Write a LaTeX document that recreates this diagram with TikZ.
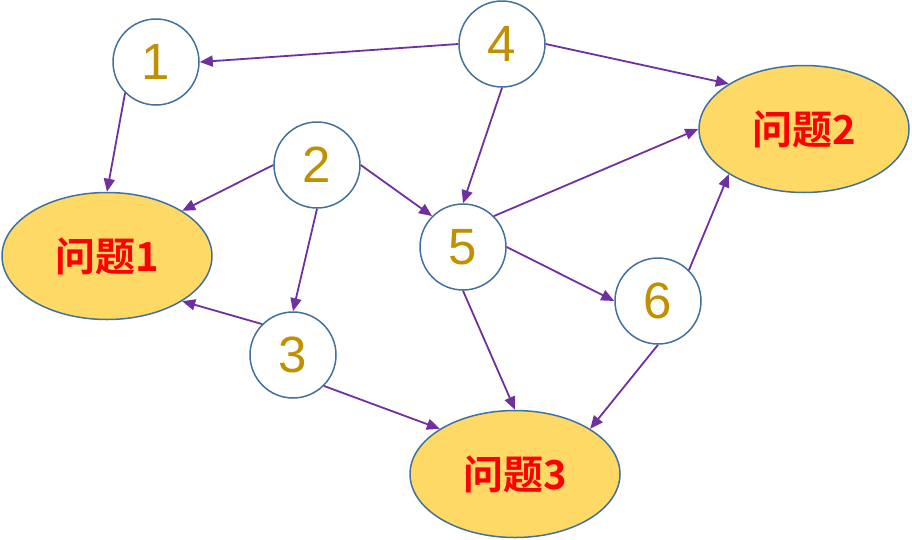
\documentclass[tikz,border=0pt]{standalone}
\usepackage{fontspec}
\setmainfont{Liberation Sans}
\newfontfamily\cjkbold{Noto Sans CJK SC Bold}
\usetikzlibrary{arrows.meta,shapes.geometric}
\definecolor{edgepurple}{HTML}{7030A0}
\definecolor{borderblue}{HTML}{41719C}
\definecolor{digitgold}{HTML}{BF9000}
\definecolor{probfill}{HTML}{FFD966}
\begin{document}
\begin{tikzpicture}[x=1pt,y=-1pt,
  numnode/.style={circle,draw=borderblue,line width=1.5pt,fill=white,minimum size=86pt,inner sep=0pt,
    text=digitgold,font=\fontsize{51}{51}\selectfont},
  probnode/.style={ellipse,draw=borderblue,line width=1.5pt,fill=probfill,minimum width=210pt,minimum height=127pt,inner sep=0pt,
    text=red,font=\cjkbold\fontsize{40}{40}\selectfont},
  conn/.style={draw=edgepurple,line width=1.8pt,-{Triangle[length=13pt,width=11pt]}}]
\useasboundingbox (0,0) rectangle (912,539);
\node[probnode] (e1) at (107,256) {问题1};
\node[probnode] (e2) at (804,129) {问题2};
\node[probnode] (e3) at (515,474) {问题3};
\node[numnode] (n1) at (156,62) {1};
\node[numnode] (n4) at (502,44) {4};
\node[numnode] (n2) at (317,165) {2};
\node[numnode] (n5) at (463,247) {5};
\node[numnode] (n6) at (658,301) {6};
\node[numnode] (n3) at (293,355) {3};
\draw[conn] (n4.west) -- (n1.east);
\draw[conn] (n4.east) -- (e2.149);
\draw[conn] (n4.south) -- (n5.north);
\draw[conn] (n1.225) -- (e1.north);
\draw[conn] (n2.west) -- (e1.31);
\draw[conn] (n2.east) -- (n5.135);
\draw[conn] (n2.south) -- (n3.north);
\draw[conn] (n3.135) -- (e1.329);
\draw[conn] (n3.315) -- (e3.149);
\draw[conn] (n5.45) -- (e2.west);
\draw[conn] (n5.east) -- (n6.west);
\draw[conn] (n5.south) -- (e3.north);
\draw[conn] (n6.45) -- (e2.211);
\draw[conn] (n6.south) -- (e3.31);
\end{tikzpicture}
\end{document}
